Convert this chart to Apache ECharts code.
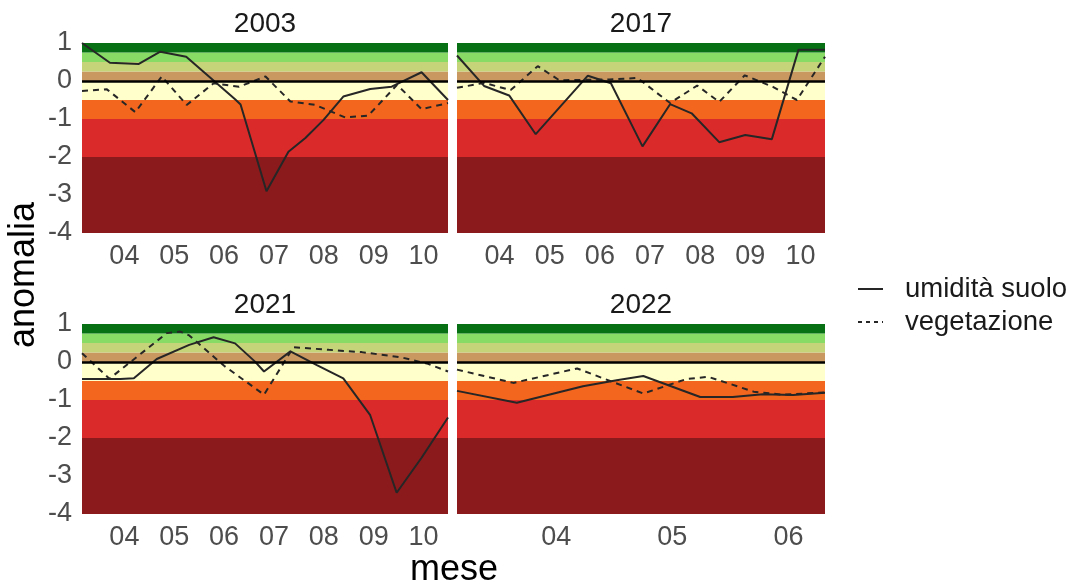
<!DOCTYPE html>
<html>
<head>
<meta charset="utf-8">
<script src="https://cdn.jsdelivr.net/npm/echarts@6/dist/echarts.min.js"></script>
<style>
html,body{margin:0;padding:0;background:#fff;}
#main{width:1073px;height:588px;}
</style>
</head>
<body>
<div id="main"></div>
<script>
// dati: [mese (decimale), anomalia]
var suolo2003 = [[3.15,1.0],[3.71,0.48],[4.29,0.45],[4.72,0.77],[5.24,0.64],[6.22,-0.48],[6.33,-0.62],[6.85,-2.9],[7.29,-1.86],[7.63,-1.5],[7.99,-1.03],[8.39,-0.41],[8.93,-0.21],[9.36,-0.15],[9.96,0.23],[10.49,-0.5]];
var veg2003 = [[3.15,-0.26],[3.65,-0.22],[4.22,-0.82],[4.75,0.12],[5.25,-0.63],[5.79,-0.06],[6.3,-0.15],[6.83,0.12],[7.33,-0.54],[7.83,-0.63],[8.43,-0.96],[8.89,-0.91],[9.47,-0.1],[9.96,-0.74],[10.49,-0.58]];

var suolo2017 = [[3.15,0.67],[3.69,-0.13],[4.19,-0.38],[4.72,-1.4],[5.76,0.14],[6.22,-0.06],[6.85,-1.72],[7.4,-0.61],[7.83,-0.85],[8.38,-1.61],[8.9,-1.42],[9.43,-1.53],[9.96,0.82],[10.49,0.82]];
var veg2017 = [[3.15,-0.18],[3.69,-0.05],[4.22,-0.24],[4.76,0.39],[5.19,0.02],[6.19,0.04],[6.75,0.08],[7.4,-0.58],[7.94,-0.12],[8.38,-0.55],[8.89,0.15],[9.46,-0.16],[9.93,-0.5],[10.49,0.64]];

var suolo2021 = [[3.15,-0.45],[3.92,-0.45],[4.19,-0.43],[4.65,0.08],[5.3,0.45],[5.79,0.65],[6.22,0.49],[6.62,0.01],[6.8,-0.25],[7.33,0.28],[7.86,-0.08],[8.39,-0.43],[8.93,-1.4],[9.46,-3.44],[9.96,-2.52],[10.49,-1.46]];
var veg2021 = [[3.15,0.23],[3.7,-0.44],[4.85,0.76],[5.12,0.8],[5.3,0.7],[6.0,-0.1],[6.8,-0.86],[7.39,0.39],[8.1,0.32],[8.76,0.26],[9.56,0.12],[10.09,-0.05],[10.49,-0.25]];

var suolo2022 = [[3.145,-0.76],[3.66,-1.07],[4.23,-0.64],[4.52,-0.48],[4.75,-0.37],[5.24,-0.92],[5.52,-0.92],[5.78,-0.85],[6.04,-0.87],[6.315,-0.81]];
var veg2022 = [[3.145,-0.2],[3.63,-0.55],[4.18,-0.17],[4.75,-0.83],[5.12,-0.45],[5.31,-0.39],[5.7,-0.78],[5.95,-0.86],[6.315,-0.8]];

var anni = ['2003','2017','2021','2022'];
var mesiTick = [4,5,6,7,8,9,10];
var mesiTick2022 = [4,5,6];
var limitiFasce = [-4,-2,-1,-0.5,0,0.25,0.5,0.75,1];
var coloriFasce = ['#8A1A1C','#DB2A2A','#F2661E','#FFFFCC','#C89860','#C5D478','#88DC66','#077014'];
var nomiSerie = ['umidità suolo', 'vegetazione'];

var font = 'Liberation Sans, Arial, sans-serif';
var colLinea = '#262626';
var chart = echarts.init(document.getElementById('main'));

var pannelli = [
	{left:82, top:43, width:366, xmin:3.15, xmax:10.49, ticks:mesiTick, ylab:true, suolo:suolo2003, veg:veg2003},
	{left:457, top:43, width:368, xmin:3.15, xmax:10.49, ticks:mesiTick, ylab:false, suolo:suolo2017, veg:veg2017},
	{left:82, top:324, width:366, xmin:3.15, xmax:10.49, ticks:mesiTick, ylab:true, suolo:suolo2021, veg:veg2021},
	{left:457, top:324, width:368, xmin:3.145, xmax:6.315, ticks:mesiTick2022, ylab:false, suolo:suolo2022, veg:veg2022}
];

var fasce = [];
for (var i = 0; i < coloriFasce.length; i++) {
	fasce.push([{yAxis: limitiFasce[i], itemStyle: {color: coloriFasce[i]}}, {yAxis: limitiFasce[i+1]}]);
}

var grid = [], xAxis = [], yAxis = [], series = [], title = [];
for (var k = 0; k < pannelli.length; k++) {
	var p = pannelli[k];
	grid.push({left: p.left, top: p.top, width: p.width, height: 190});
	xAxis.push({
		type: 'value', gridIndex: k, min: p.xmin, max: p.xmax,
		axisLine: {show: false}, axisTick: {show: false}, splitLine: {show: false},
		axisLabel: {
			customValues: p.ticks, margin: 10, fontSize: 27, color: '#4D4D4D', fontFamily: font,
			formatter: function (v) { return (v < 10 ? '0' : '') + Math.round(v); }
		}
	});
	yAxis.push({
		type: 'value', gridIndex: k, min: -4, max: 1, interval: 1,
		axisLine: {show: false}, axisTick: {show: false}, splitLine: {show: false},
		axisLabel: {show: p.ylab, margin: 10, fontSize: 27, color: '#4D4D4D', fontFamily: font}
	});
	title.push({
		text: anni[k], left: p.left + p.width / 2, textAlign: 'center', top: p.top - 33, padding: 0,
		textStyle: {fontSize: 28, fontWeight: 'normal', color: '#1A1A1A', fontFamily: font}
	});
	series.push({
		name: nomiSerie[0], type: 'line', xAxisIndex: k, yAxisIndex: k,
		data: p.suolo, symbol: 'none', z: 3,
		lineStyle: {color: colLinea, width: 2, type: 'solid'},
		markArea: {silent: true, z: 1, data: fasce}
	});
	series.push({
		name: nomiSerie[1], type: 'line', xAxisIndex: k, yAxisIndex: k,
		data: p.veg, symbol: 'none', z: 3,
		lineStyle: {color: colLinea, width: 2, type: [6, 5]},
		markLine: {silent: true, symbol: 'none', label: {show: false},
			lineStyle: {color: '#000', width: 2.5, type: 'solid'}, data: [{yAxis: 0}]}
	});
}

// legenda disegnata a mano (la legenda di echarts aggiunge un cerchio)
var legenda = [];
for (var j = 0; j < nomiSerie.length; j++) {
	var yy = 289 + j * 33;
	legenda.push({type: 'line', shape: {x1: 858, y1: yy, x2: 883, y2: yy},
		style: {stroke: colLinea, lineWidth: 2, lineDash: j ? [4, 4] : null}});
	legenda.push({type: 'text', x: 905, y: yy,
		style: {text: nomiSerie[j], fontSize: 27.5, fill: '#1A1A1A', fontFamily: font, verticalAlign: 'middle'}});
}

option = {
	animation: false,
	backgroundColor: '#fff',
	title: title,
	grid: grid,
	xAxis: xAxis,
	yAxis: yAxis,
	graphic: [
		{type: 'text', x: 24, y: 275, rotation: Math.PI / 2,
			style: {text: 'anomalia', fontSize: 36, fill: '#000', fontFamily: font, align: 'center', verticalAlign: 'middle'}},
		{type: 'text', x: 454, y: 570,
			style: {text: 'mese', fontSize: 36, fill: '#000', fontFamily: font, align: 'center', verticalAlign: 'middle'}}
	].concat(legenda),
	series: series
};
chart.setOption(option);
</script>
</body>
</html>
